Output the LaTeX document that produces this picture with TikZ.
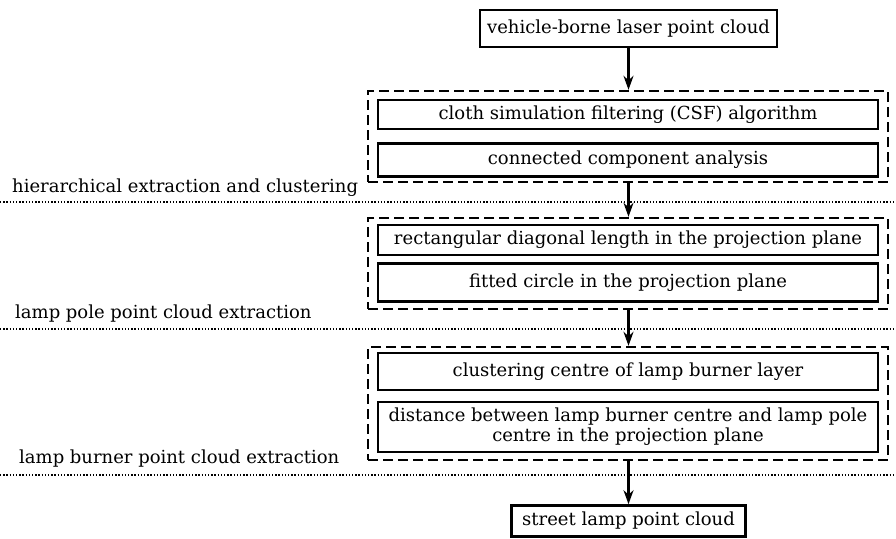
\documentclass[tikz,border=0pt]{standalone}
\usepackage{fontspec}
\setmainfont{DejaVu Serif}
\usetikzlibrary{arrows.meta}
\begin{document}
\begin{tikzpicture}[x=1pt,y=-1pt,
  box/.style={draw,line width=2.6pt,inner sep=0pt,align=center,font=\fontsize{18}{20}\selectfont},
  inbox/.style={box,minimum width=500pt},
  grp/.style={draw,dash pattern=on 10pt off 5pt,line width=2.4pt,minimum width=520pt,inner sep=0pt},
  lbl/.style={anchor=west,inner sep=0pt,font=\fontsize{18}{20}\selectfont},
  sep/.style={line width=2pt,dash pattern=on 1.4pt off 1.8pt},
  arr/.style={line width=2.2pt,-{Stealth[length=14pt,width=10pt]}}]
\useasboundingbox (0,0) rectangle (896,538);
% top and bottom boxes
\node[box,minimum width=297pt,minimum height=37pt] (src) at (628.5,28.5) {vehicle-borne laser point cloud};
\node[box,minimum width=234pt,minimum height=31pt] (dst) at (628.5,521) {street lamp point cloud};
% group 1
\node[grp,minimum height=91pt] (g1) at (628,136.5) {};
\node[inbox,minimum height=29pt] (a1) at (628,114.5) {cloth simulation filtering (CSF) algorithm};
\node[inbox,minimum height=33pt] (a2) at (628,160) {connected component analysis};
% group 2
\node[grp,minimum height=91pt] (g2) at (628,263.5) {};
\node[inbox,minimum height=30pt] (b1) at (628,240) {rectangular diagonal length in the projection plane};
\node[inbox,minimum height=38pt] (b2) at (628,282.5) {fitted circle in the projection plane};
% group 3
\node[grp,minimum height=113pt] (g3) at (628,403.5) {};
\node[inbox,minimum height=37pt] (c1) at (628,371.5) {clustering centre of lamp burner layer};
\node[inbox,minimum height=50pt] (c2) at (628,427) {distance between lamp burner centre and lamp pole\\centre in the projection plane};
% labels
\node[lbl] (l1) at (12,188) {hierarchical extraction and clustering};
\node[lbl] (l2) at (15,314) {lamp pole point cloud extraction};
\node[lbl] (l3) at (19,459) {lamp burner point cloud extraction};
% separators
\coordinate (s1a) at (0,202); \coordinate (s1b) at (896,202);
\coordinate (s2a) at (0,329); \coordinate (s2b) at (896,329);
\coordinate (s3a) at (0,475); \coordinate (s3b) at (896,475);
\draw[sep] (s1a) -- (s1b);
\draw[sep] (s2a) -- (s2b);
\draw[sep] (s3a) -- (s3b);
% arrows
\draw[arr] (src.south) -- (src.south |- g1.north);
\draw[arr] (g1.south -| src) -- (g2.north -| src);
\draw[arr] (g2.south -| src) -- (g3.north -| src);
\draw[arr] (g3.south -| src) -- (dst.north);
\end{tikzpicture}
\end{document}
